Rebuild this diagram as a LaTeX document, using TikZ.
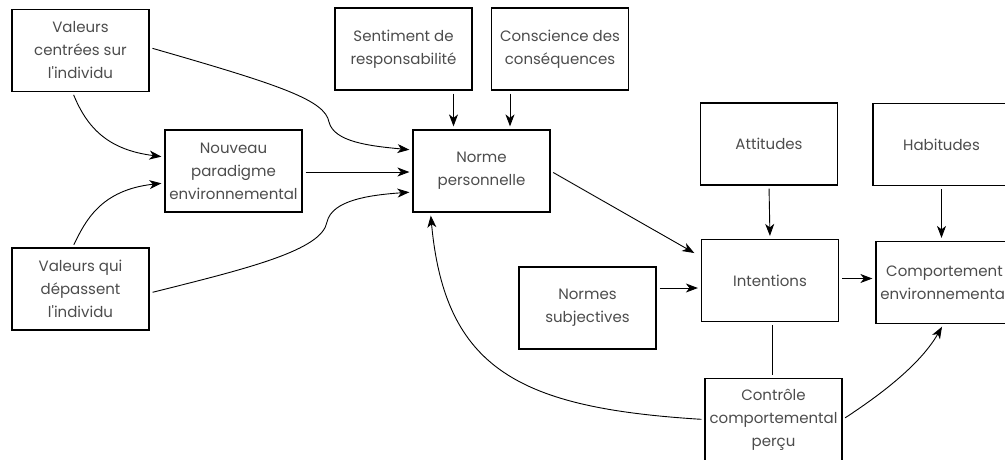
\documentclass[tikz,border=0pt]{standalone}
\usepackage{fontspec}
\setmainfont{Poppins}[Ligatures=TeXOff]
\usetikzlibrary{arrows.meta}

\tikzset{
  bloc/.style={draw=black, line width=1.2pt, minimum width=137pt, minimum height=82pt,
    inner sep=0pt, align=center, text=black!70, font=\fontsize{15}{23}\selectfont},
  fleche/.style={line width=0.9pt, -{Stealth[length=12pt,width=9pt,inset=3.5pt]},
    shorten >=3pt, shorten <=3pt},
  trait/.style={line width=0.9pt, shorten >=3pt, shorten <=3pt}
}

\begin{document}
\begin{tikzpicture}[x=1pt,y=-1pt]
\useasboundingbox (0,0) rectangle (1005,459);
\clip (0,0) rectangle (1005,459);

\node[bloc] (vci) at (80.5,50.5) {Valeurs\\centrées sur\\l'individu};
\node[bloc] (npe) at (233.5,171) {Nouveau\\paradigme\\environnemental};
\node[bloc] (vqd) at (80.5,289) {Valeurs qui\\dépassent\\l'individu};

\node[bloc] (sdr) at (403.5,49) {Sentiment de\\responsabilité};
\node[bloc] (cdc) at (560,49) {Conscience des\\conséquences};
\node[bloc] (nop) at (481.5,171) {Norme\\personnelle};

\node[bloc] (att) at (769,144) {Attitudes};
\node[bloc] (hab) at (941.5,144.5) {Habitudes};
\node[bloc] (int) at (770,280.5) {Intentions};
\node[bloc] (com) at (944.5,282.5) {Comportement\\environnemental};
\node[bloc] (nsu) at (587.5,308) {Normes\\subjectives};
\node[bloc] (cco) at (773.5,419.5) {Contrôle\\comportemental\\perçu};

% valeurs -> paradigme / norme
\draw[fleche] ([yshift=3pt]vci.east) .. controls (280,85) and (325,100) .. (329,122)
  .. controls (334,142) and (370,146) .. ([yshift=21pt]nop.west);
\draw[fleche] ([xshift=-8pt]vci.south) .. controls (88,130) and (110,150) .. ([yshift=14pt]npe.west);
\draw[fleche] ([xshift=-8pt]vqd.north) .. controls (85,222) and (100,190) .. ([yshift=-12pt]npe.west);
\draw[fleche] ([yshift=-4pt]vqd.east) .. controls (250,268) and (322,250) .. (327,222)
  .. controls (332,200) and (370,195) .. ([yshift=-21pt]nop.west);
\draw[fleche] ([yshift=-1pt]npe.east) -- ([yshift=-1pt]npe.east -| nop.west);

\draw[fleche] ([xshift=50pt]sdr.south) -- ([xshift=50pt]sdr.south |- nop.north);
\draw[fleche] ([xshift=-50pt]cdc.south) -- ([xshift=-50pt]cdc.south |- nop.north);

% theorie du comportement planifie
\draw[fleche] (nop.east) -- ([xshift=-4pt,yshift=26pt]int.west);
\draw[fleche] ([yshift=20pt]nsu.east) -- ([yshift=20pt]nsu.east -| int.west);
\draw[fleche] (att.south) -- (int.north);
\draw[fleche] (hab.south) -- (hab.south |- com.north);
\draw[fleche] ([yshift=2pt]int.east) -- ([yshift=2pt]int.east -| com.west);
\draw[trait] ([xshift=2pt]int.south) -- ([xshift=2pt]int.south |- cco.north);

\draw[fleche] (cco.west) .. controls (520,408) and (445,370) .. ([xshift=-51pt]nop.south);
\draw[fleche] (cco.east) .. controls (880,395) and (920,365) .. ([xshift=-1pt]com.south);

\end{tikzpicture}
\end{document}
